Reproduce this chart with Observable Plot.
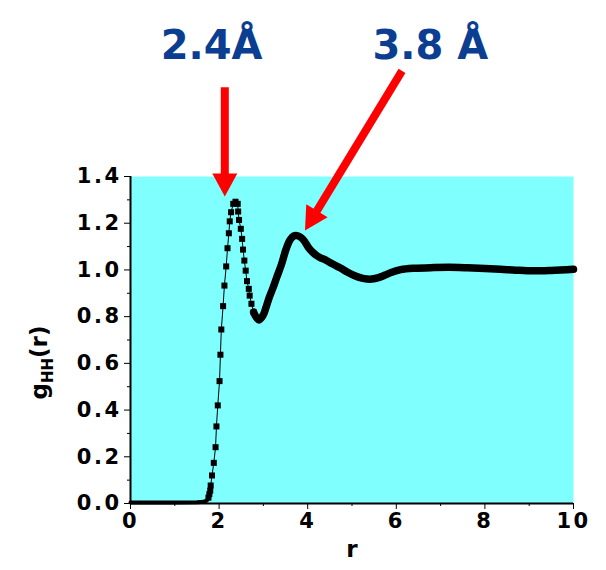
<!DOCTYPE html>
<html>
<head>
<meta charset="utf-8">
<script src="https://cdn.jsdelivr.net/npm/d3@7"></script>
<script src="https://cdn.jsdelivr.net/npm/@observablehq/plot@0.6"></script>
<style>
  body { margin: 0; background: #ffffff; }
  #chart svg { display: block; }
</style>
</head>
<body>
<div id="chart"></div>
<script>
// H–H radial distribution function g_HH(r)
const r = [
  0.0, 0.5, 1.0, 1.5, 1.65, 1.72,
  1.76, 1.78, 1.80, 1.81, 1.84, 1.88, 1.92, 1.94, 1.97, 2.01, 2.03, 2.05,
  2.09, 2.12, 2.16, 2.19, 2.22, 2.24, 2.27, 2.32, 2.37, 2.42, 2.43, 2.45,
  2.49, 2.52, 2.54, 2.57, 2.60, 2.63, 2.67, 2.69, 2.73, 2.78,
  2.84, 2.90, 2.99, 3.06, 3.12, 3.20, 3.30, 3.41, 3.51, 3.60, 3.68, 3.76,
  3.84, 3.92, 4.02, 4.10, 4.20, 4.29, 4.40, 4.50, 4.60, 4.74, 4.90, 5.05,
  5.20, 5.34, 5.45, 5.60, 5.75, 5.90, 6.10, 6.40, 6.85, 7.20, 7.60, 8.00,
  8.35, 8.70, 9.10, 9.50, 10.0
];
const g = [
  0.004, 0.004, 0.004, 0.005, 0.007, 0.012,
  0.025, 0.040, 0.055, 0.077, 0.120, 0.174, 0.241, 0.330, 0.420, 0.524, 0.637, 0.745,
  0.845, 0.933, 1.015, 1.093, 1.157, 1.208, 1.247, 1.283, 1.292, 1.283, 1.250, 1.214,
  1.176, 1.133, 1.087, 1.040, 0.997, 0.952, 0.919, 0.890, 0.855, 0.819,
  0.797, 0.786, 0.805, 0.840, 0.876, 0.915, 0.968, 1.025, 1.088, 1.128, 1.145, 1.147,
  1.140, 1.125, 1.095, 1.078, 1.062, 1.052, 1.043, 1.032, 1.022, 1.008, 0.990, 0.976,
  0.966, 0.961, 0.961, 0.967, 0.978, 0.990, 1.001, 1.007, 1.010, 1.011, 1.009, 1.006,
  1.003, 0.999, 0.996, 0.998, 1.003
];

const xTicks = [0, 2, 4, 6, 8, 10];
const xMinor = [1, 3, 5, 7, 9];
const yTicks = [0, 0.2, 0.4, 0.6, 0.8, 1.0, 1.2, 1.4];
const yMinor = [0.1, 0.3, 0.5, 0.7, 0.9, 1.1, 1.3];

// peak annotations: label text and position, arrow tail and tip (data units)
const peakLabels = ["2.4Å", "3.8 Å"];
const labelR = [1.83, 6.77];
const labelG = [1.905, 1.905];
const arrowTailR = [2.14, 6.14];
const arrowTailG = [1.78, 1.85];
const arrowTipR = [2.14, 3.95];
const arrowTipG = [1.312, 1.167];

const pts = r.map((x, i) => ({r: x, g: g[i]}));
const base = pts.filter(d => d.r <= 1.76);
const steep = pts.filter(d => d.r >= 1.76 && d.r <= 2.78);
const tail = pts.filter(d => d.r >= 2.78);
const labels = peakLabels.map((t, i) => ({t, r: labelR[i], g: labelG[i]}));

const font = "'Comic Sans MS', 'DejaVu Sans', sans-serif";

const plot = Plot.plot({
  width: 606,
  height: 570,
  marginLeft: 130,
  marginRight: 33,
  marginTop: 176,
  marginBottom: 67,
  style: {fontFamily: font, fontSize: "21px", fontWeight: "bold", color: "#000", background: "#fff", overflow: "visible"},
  x: {domain: [0, 10], label: null},
  y: {domain: [0, 1.4], label: null},
  marks: [
    Plot.frame({fill: "#80ffff", stroke: "none"}),
    Plot.axisX({ticks: xTicks, tickSize: 6, tickPadding: 4, tickFormat: d => String(d), label: null}),
    Plot.axisX({ticks: xMinor, tickSize: 3, tickFormat: () => "", label: null}),
    Plot.axisY({ticks: yTicks, tickSize: 6, tickPadding: 3, tickFormat: d3.format(".1f"), label: null}),
    Plot.axisY({ticks: yMinor, tickSize: 3, tickFormat: () => "", label: null}),
    Plot.line(base, {x: "r", y: "g", stroke: "#000", strokeWidth: 4}),
    Plot.line(steep, {x: "r", y: "g", stroke: "#000", strokeWidth: 1}),
    Plot.dot(steep, {x: "r", y: "g", symbol: "square", r: 3.4, fill: "#000", stroke: "none"}),
    Plot.line(tail, {x: "r", y: "g", stroke: "#000", strokeWidth: 7.5, strokeLinejoin: "round", strokeLinecap: "round", curve: "catmull-rom"}),
    Plot.ruleX([0], {stroke: "#000", strokeWidth: 2}),
    Plot.ruleY([0], {stroke: "#000", strokeWidth: 2}),
    Plot.text(labels, {x: "r", y: "g", text: "t", fill: "#0b3d91", fontSize: 40, fontWeight: "bold", lineAnchor: "bottom", textAnchor: "middle"}),
    Plot.text(["r"], {frameAnchor: "bottom", dy: 53, fontSize: 23, fontWeight: "bold"})
  ]
});

document.getElementById("chart").appendChild(plot);

const svg = d3.select(plot);
// wider spacing for the tick numbers
svg.selectAll('g[aria-label$="tick label"]').attr("letter-spacing", 2.5);

// red arrows pointing at the two peaks, placed with the plot's own scales
const sx = plot.scale("x"), sy = plot.scale("y");
const headLen = 23, headHalf = 12.5, shaft = 8;
arrowTailR.forEach((_, i) => {
  const x0 = sx.apply(arrowTailR[i]), y0 = sy.apply(arrowTailG[i]);
  const x1 = sx.apply(arrowTipR[i]), y1 = sy.apply(arrowTipG[i]);
  const len = Math.hypot(x1 - x0, y1 - y0);
  const ux = (x1 - x0) / len, uy = (y1 - y0) / len;
  const bx = x1 - ux * headLen, by = y1 - uy * headLen;
  svg.append("line")
    .attr("x1", x0).attr("y1", y0).attr("x2", bx + ux).attr("y2", by + uy)
    .attr("stroke", "#ff0000").attr("stroke-width", shaft);
  svg.append("polygon")
    .attr("points", [
      [x1, y1],
      [bx - uy * headHalf, by + ux * headHalf],
      [bx + uy * headHalf, by - ux * headHalf]
    ].map(p => p.join(",")).join(" "))
    .attr("fill", "#ff0000");
});

// y-axis title with subscript
const yl = svg.append("text")
  .attr("transform", `translate(47,${(sy.apply(0) + sy.apply(1.4)) / 2 + 23}) rotate(-90)`)
  .attr("text-anchor", "middle")
  .attr("font-family", font)
  .attr("font-weight", "bold")
  .attr("font-size", 23)
  .attr("fill", "#000");
yl.append("tspan").text("g");
yl.append("tspan").attr("font-size", 15).attr("dy", 6).text("HH");
yl.append("tspan").attr("dy", -6).text("(r)");
</script>
</body>
</html>
